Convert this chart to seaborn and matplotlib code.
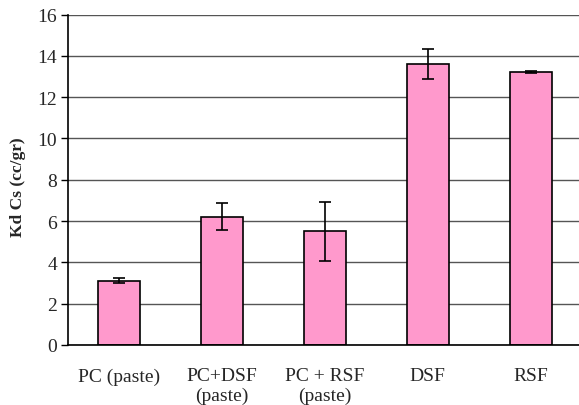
import matplotlib
matplotlib.use("Agg")
import matplotlib.pyplot as plt
import seaborn as sns
import numpy as np
import pandas as pd

categories = ["PC (paste)", "PC+DSF\n(paste)", "PC + RSF\n(paste)", "DSF", "RSF"]
values = [3.12, 6.22, 5.5, 13.62, 13.2]
errors = [0.13, 0.65, 1.43, 0.73, 0.05]

sns.set_style("white")
plt.rcParams['font.family'] = ['Liberation Serif', 'DejaVu Serif']

W, H = 579, 406
fig = plt.figure(figsize=(W/100, H/100), dpi=100)
ax = fig.add_axes([68/W, 1-346/H, 514/W, (346-15.5)/H])

df = pd.DataFrame({"cat": categories, "val": values})
sns.barplot(data=df, x="cat", y="val", color="#FF99CC", saturation=1,
            edgecolor="black", linewidth=1.2, width=0.41, ax=ax, errorbar=None)
x = np.arange(len(categories))
ax.errorbar(x, values, yerr=errors, fmt="none", ecolor="black",
            elinewidth=1.2, capsize=4, capthick=1.2, zorder=5)

ax.set_ylim(0, 16)
ax.set_xlim(-0.5, 4.5)
ax.set_yticks(np.arange(0, 17, 2))
ax.set_yticklabels([str(v) for v in range(0, 17, 2)], fontsize=14)
ax.yaxis.grid(True, color="#555555", linewidth=1)
ax.set_axisbelow(True)
ax.set_xticks(x)
ax.set_xticklabels(categories, fontsize=14, linespacing=1.15)
ax.tick_params(axis="x", length=0, pad=16)
ax.set_xticks(np.arange(-0.5, 5, 1), minor=True)
ax.tick_params(axis="x", which="minor", length=5, width=1, direction="out", color="black")
ax.tick_params(axis="y", length=5, width=1, direction="out", color="black", left=True, pad=3)
for s in ["top", "right"]:
    ax.spines[s].set_visible(False)
for s in ["left", "bottom"]:
    ax.spines[s].set_color("black")
    ax.spines[s].set_linewidth(1.2)
ax.set_xlabel("")
ax.set_ylabel("Kd Cs (cc/gr)", fontsize=12.5, fontweight="bold")
ax.yaxis.set_label_coords(-42/514, (346-187)/(346-15.5))

fig.savefig("out.png", dpi=100)
